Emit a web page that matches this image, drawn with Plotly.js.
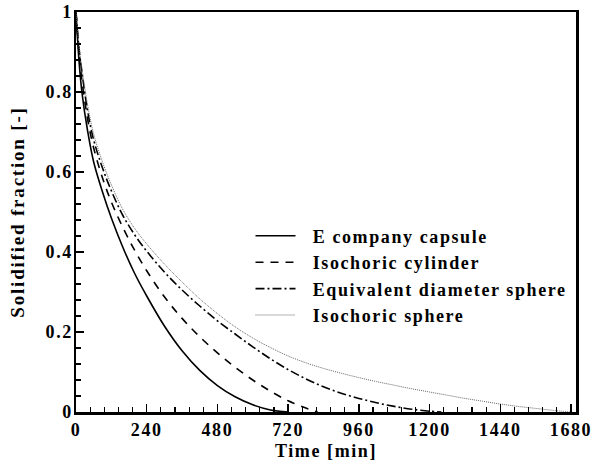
<!DOCTYPE html>
<html>
<head>
<meta charset="utf-8">
<script src="https://cdn.plot.ly/plotly-3.0.1.min.js"></script>
<style>
html,body{margin:0;padding:0;background:#fff;}
#chart{width:594px;height:467px;}
.legendtext, .xtick text, .ytick text, .xtitle { letter-spacing: 1.6px; }
.ytitle { letter-spacing: 1.8px; }
</style>
</head>
<body>
<div id="chart"></div>
<script>
// Time [min] and solidified fraction
const tCapsule = [0, 10, 20, 40, 60, 90, 120, 160, 200, 240, 300, 360, 420, 480, 540, 600, 660, 720];
const yCapsule = [1, 0.88, 0.8, 0.7, 0.625, 0.55, 0.485, 0.41, 0.345, 0.29, 0.215, 0.153, 0.104, 0.066, 0.038, 0.018, 0.005, 0];

const tCylinder = [0, 10, 20, 40, 60, 90, 120, 160, 200, 240, 300, 360, 420, 480, 540, 600, 660, 720, 780, 820];
const yCylinder = [1, 0.9, 0.83, 0.73, 0.66, 0.585, 0.525, 0.46, 0.403, 0.353, 0.288, 0.234, 0.188, 0.148, 0.112, 0.08, 0.052, 0.028, 0.01, 0];

const tEqSphere = [0, 10, 20, 40, 60, 90, 120, 160, 200, 240, 300, 360, 420, 480, 540, 600, 660, 720, 780, 840, 900, 960, 1020, 1080, 1140, 1200, 1240];
const yEqSphere = [1, 0.91, 0.85, 0.75, 0.68, 0.61, 0.553, 0.49, 0.442, 0.402, 0.35, 0.305, 0.265, 0.228, 0.195, 0.163, 0.133, 0.106, 0.083, 0.063, 0.047, 0.034, 0.023, 0.014, 0.007, 0.002, 0];

const tIsoSphere = [0, 10, 20, 40, 60, 90, 120, 160, 200, 240, 300, 360, 420, 480, 540, 600, 660, 720, 780, 840, 900, 960, 1020, 1080, 1140, 1200, 1260, 1320, 1380, 1440, 1500, 1560, 1620, 1680];
const yIsoSphere = [1, 0.92, 0.86, 0.765, 0.695, 0.625, 0.568, 0.505, 0.458, 0.42, 0.37, 0.325, 0.283, 0.246, 0.213, 0.185, 0.161, 0.14, 0.123, 0.109, 0.097, 0.086, 0.076, 0.067, 0.058, 0.05, 0.042, 0.034, 0.027, 0.02, 0.014, 0.009, 0.004, 0];

const seriesNames = ["E company capsule", "Isochoric cylinder", "Equivalent diameter sphere", "Isochoric sphere"];
const xTicks = [0, 240, 480, 720, 960, 1200, 1440, 1680];
const yTicks = [0, 0.2, 0.4, 0.6, 0.8, 1];
const yTickText = ["0", "0.2", "0.4", "0.6", "0.8", "1"];

const FONT = "'Liberation Serif', 'Times New Roman', serif";
const PAD = "\u00a0\u00a0";

const traces = [
  {x: tCapsule, y: yCapsule, name: PAD + seriesNames[0], mode: "lines", line: {color: "#000", width: 1.6, shape: "spline", smoothing: 1}},
  {x: tCylinder, y: yCylinder, name: PAD + seriesNames[1], mode: "lines", line: {color: "#000", width: 1.6, dash: "8px,7px", shape: "spline", smoothing: 1}},
  {x: tEqSphere, y: yEqSphere, name: PAD + seriesNames[2], mode: "lines", line: {color: "#000", width: 1.6, dash: "9px,3px,2px,3px", shape: "spline", smoothing: 1}},
  {x: tIsoSphere, y: yIsoSphere, name: PAD + seriesNames[3], mode: "lines", line: {color: "#666", width: 1, dash: "1px,1px", shape: "spline", smoothing: 1}}
];

const layout = {
  width: 594, height: 467,
  margin: {l: 76, r: 18, t: 12, b: 55},
  paper_bgcolor: "#fff", plot_bgcolor: "#fff",
  font: {family: FONT, size: 18, color: "#000"},
  showlegend: true,
  legend: {x: 0.349, y: 0.486, xanchor: "left", yanchor: "top", bgcolor: "rgba(0,0,0,0)",
           font: {family: FONT, size: 18, color: "#000", weight: "bold"}, itemwidth: 40, tracegroupgap: 0},
  xaxis: {
    range: [0, 1697], showgrid: false, zeroline: false,
    showline: true, linecolor: "#000", linewidth: 2.5, mirror: true,
    tickmode: "array", tickvals: xTicks, ticktext: xTicks.map(String),
    ticks: "inside", ticklen: 8, tickwidth: 1.5, tickcolor: "#000",
    minor: {dtick: 48, tick0: 0, ticks: "inside", ticklen: 5, tickwidth: 1.2, tickcolor: "#000", showgrid: false},
    tickfont: {family: FONT, size: 18, color: "#000", weight: "bold"},
    title: {text: "Time [min]", font: {family: FONT, size: 18, color: "#000", weight: "bold"}, standoff: 6}
  },
  yaxis: {
    range: [0, 1], showgrid: false, zeroline: false,
    showline: true, linecolor: "#000", linewidth: 2.5, mirror: true,
    tickmode: "array", tickvals: yTicks, ticktext: yTickText,
    ticks: "inside", ticklen: 8, tickwidth: 1.5, tickcolor: "#000",
    ticklabelstandoff: -3,
    minor: {dtick: 0.04, tick0: 0, ticks: "inside", ticklen: 5, tickwidth: 1.2, tickcolor: "#000", showgrid: false},
    tickfont: {family: FONT, size: 18, color: "#000", weight: "bold"},
    title: {text: "Solidified fraction [-]", font: {family: FONT, size: 19, color: "#000", weight: "bold"}, standoff: 16}
  }
};

Plotly.newPlot("chart", traces, layout, {displayModeBar: false, staticPlot: true});
</script>
</body>
</html>
